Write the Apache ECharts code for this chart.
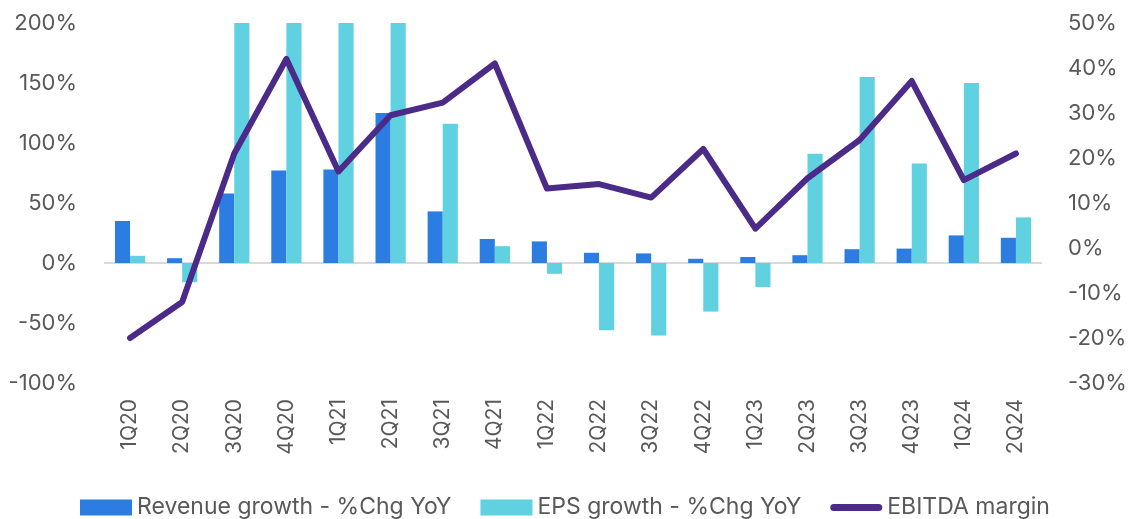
<!DOCTYPE html>
<html>
<head>
<meta charset="utf-8">
<script src="https://cdn.jsdelivr.net/npm/echarts@6/dist/echarts.min.js"></script>
<style>
  html, body { margin: 0; padding: 0; background: #fff; }
  #chart { width: 1130px; height: 519px; }
</style>
</head>
<body>
<div id="chart"></div>
<script>
const quarters = ["1Q20", "2Q20", "3Q20", "4Q20", "1Q21", "2Q21", "3Q21", "4Q21", "1Q22",
  "2Q22", "3Q22", "4Q22", "1Q23", "2Q23", "3Q23", "4Q23", "1Q24", "2Q24"];
const revenueGrowth = [35, 4, 58, 77, 78, 125, 43, 20, 18, 8.5, 8, 3.5, 5, 6.5, 11.5, 12, 23, 21];
const epsGrowth = [6, -16, 200, 200, 200, 200, 116, 14, -9, -56, -60.5, -40.5, -20, 91, 155, 83, 150, 38];
const ebitdaMargin = [-20, -12, 21, 42, 17, 29.5, 32.3, 41, 13.2, 14.2, 11.2, 22, 4.3, 15.5, 24, 37.1, 15.1, 21];

const font = "Inter";
const textColor = "#595959";
// thick rounded line for the legend, padded so it does not get stretched
const lineIcon = "path://M0,0M0,16M3.5,4.5L48.5,4.5A3.5,3.5,0,0,1,48.5,11.5L3.5,11.5A3.5,3.5,0,0,1,3.5,4.5Z";

const myChart = echarts.init(document.getElementById("chart"));
myChart.setOption({
  animation: false,
  textStyle: { fontFamily: font },
  grid: {
    left: 104,
    right: 88,
    top: 23,
    bottom: 136,
  },
  legend: {
    left: 80,
    top: 496,
    padding: 0,
    itemWidth: 52,
    itemHeight: 16,
    itemGap: 29,
    textStyle: { fontSize: 23, color: textColor, fontFamily: font },
    data: [
      { name: "Revenue growth - %Chg YoY", icon: "rect" },
      { name: "EPS growth - %Chg YoY", icon: "rect" },
      { name: "EBITDA margin", icon: lineIcon },
    ],
  },
  xAxis: {
    type: "category",
    data: quarters,
    axisLine: { show: false, onZero: false },
    axisTick: { show: false },
    axisLabel: {
      rotate: 90,
      margin: 16,
      fontSize: 21,
      color: textColor,
      fontFamily: font,
    },
  },
  yAxis: [
    {
      type: "value",
      min: -100,
      max: 200,
      interval: 50,
      axisLine: { show: false },
      axisTick: { show: false },
      axisLabel: { formatter: "{value}%", fontSize: 22, color: textColor, margin: 27 },
      splitLine: {
        show: true,
        lineStyle: {
          width: 2,
          color: ["rgba(0,0,0,0)", "rgba(0,0,0,0)", "#d9d9d9", "rgba(0,0,0,0)",
            "rgba(0,0,0,0)", "rgba(0,0,0,0)", "rgba(0,0,0,0)"],
        },
      },
    },
    {
      type: "value",
      min: -30,
      max: 50,
      interval: 10,
      axisLine: { show: false },
      axisTick: { show: false },
      splitLine: { show: false },
      axisLabel: { formatter: "{value}%", fontSize: 22, color: textColor, margin: 26 },
    },
  ],
  series: [
    {
      name: "Revenue growth - %Chg YoY",
      type: "bar",
      data: revenueGrowth,
      barGap: 0,
      barCategoryGap: "42%",
      itemStyle: { color: "#2b7de1" },
    },
    {
      name: "EPS growth - %Chg YoY",
      type: "bar",
      data: epsGrowth,
      itemStyle: { color: "#5fd1e0" },
    },
    {
      name: "EBITDA margin",
      type: "line",
      yAxisIndex: 1,
      data: ebitdaMargin,
      symbol: "none",
      lineStyle: { color: "#4b2a88", width: 6, cap: "round", join: "round" },
      itemStyle: { color: "#4b2a88" },
    },
  ],
});
</script>
</body>
</html>
